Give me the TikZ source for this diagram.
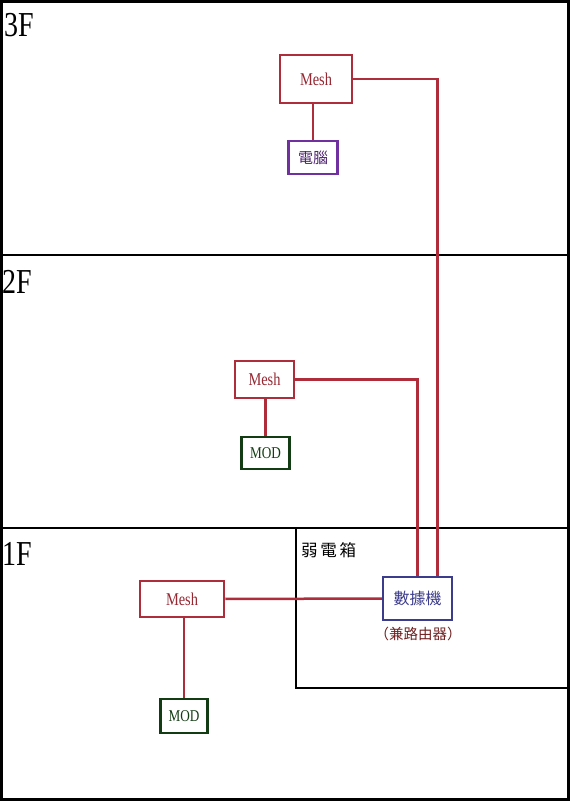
\documentclass[tikz,border=0pt]{standalone}
\usepackage{fontspec}
\usepackage{tikz}
\newfontfamily\latinfont[FakeStretch=0.8]{Liberation Serif}
\newfontfamily\cjkfont{Noto Sans CJK TC}
\definecolor{meshred}{RGB}{175,45,58}
\definecolor{meshtext}{RGB}{150,40,50}
\definecolor{pcpurple}{RGB}{112,48,160}
\definecolor{modgreen}{RGB}{20,60,20}
\definecolor{modemblue}{RGB}{60,60,140}
\definecolor{routerred}{RGB}{110,30,30}

\begin{document}
\begin{tikzpicture}[x=1pt, y=-1pt,
    box/.style={draw, line width=2.5pt, inner sep=0pt, fill=white},
    meshbox/.style={box, draw=meshred, text=meshtext, font=\latinfont\fontsize{18}{18}\selectfont},
    pcbox/.style={box, draw=pcpurple, text=pcpurple!70!black, font=\cjkfont\fontsize{15}{15}\selectfont},
    modbox/.style={box, draw=modgreen, text=modgreen, font=\latinfont\fontsize{16.5}{16.5}\selectfont},
    modembox/.style={box, draw=modemblue, text=modemblue, font=\cjkfont\fontsize{16}{16}\selectfont},
    floorlabel/.style={anchor=base west, inner sep=0pt, font=\latinfont\fontsize{35}{35}\selectfont},
    cable/.style={meshred, line width=2.5pt}]
    \useasboundingbox (0,0) rectangle (570,801);

    % Floors
    \draw[line width=3pt] (1.5,1.5) rectangle (568.5,799.5);
    \draw[line width=2pt] (0,255) -- (570,255);
    \draw[line width=2pt] (0,528) -- (570,528);
    \node[floorlabel] (f3) at (4,36) {3F};
    \node[floorlabel] (f2) at (2,293) {2F};
    \node[floorlabel] (f1) at (2,565) {1F};

    % Weak current box
    \draw[line width=2.5pt] (296,528) -- (296,688) -- (568,688);
    \node[anchor=west, inner sep=0pt, font=\cjkfont\fontsize{16.5}{16.5}\selectfont] (cabinet) at (301,550) {弱\,電\,箱};

    % Devices
    \node[meshbox, minimum width=72pt, minimum height=48pt] (mesh3) at (316,79) {Mesh};
    \node[pcbox, minimum width=49pt, minimum height=33pt] (pc) at (313,157.5) {電腦};
    \node[meshbox, minimum width=59pt, minimum height=37pt] (mesh2) at (264.5,379.5) {Mesh};
    \node[modbox, minimum width=48pt, minimum height=32pt] (mod2) at (265.5,453) {MOD};
    \node[modembox, minimum width=69pt, minimum height=43pt] (modem) at (417.5,598.5) {數據機};
    \node[text=routerred, font=\cjkfont\fontsize{14.5}{15}\selectfont] (router) at (418,634) {（兼路由器）};
    \node[meshbox, minimum width=84pt, minimum height=36pt] (mesh1) at (182,599) {Mesh};
    \node[modbox, minimum width=47pt, minimum height=34pt] (mod1) at (184,716) {MOD};

    % Cables
    \draw[cable] (pc.north) -- (pc.north |- mesh3.south);
    \draw[cable] (mesh3.east) -| ([xshift=20pt]modem.north);
    \draw[cable] (mod2.north) -- (mod2.north |- mesh2.south);
    \draw[cable] (mesh2.east) -| (modem.north);
    \draw[cable] (mesh1) -- (modem);
    \draw[cable] (mod1.north) -- (mod1.north |- mesh1.south);
\end{tikzpicture}
\end{document}
